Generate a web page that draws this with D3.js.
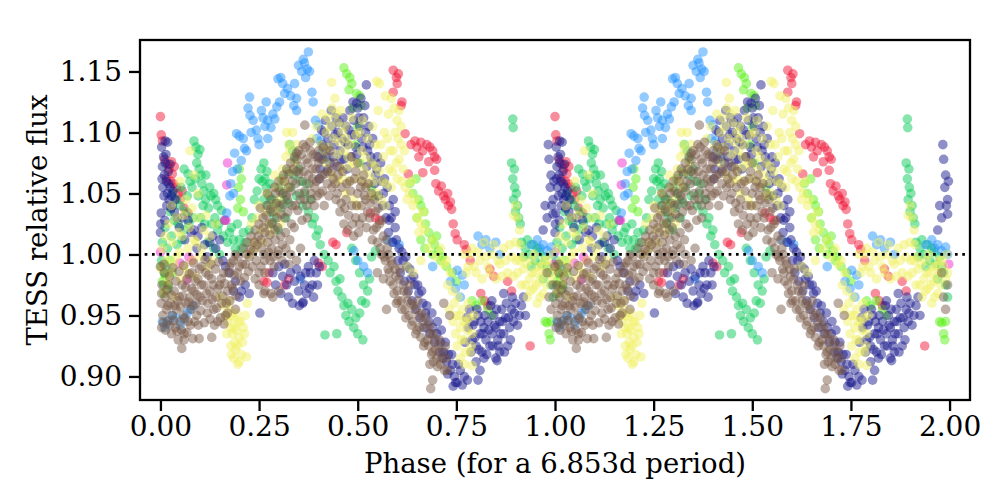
<!DOCTYPE html>
<html>
<head>
<meta charset="utf-8">
<script src="https://cdn.jsdelivr.net/npm/d3@7"></script>
<style>
html,body{margin:0;padding:0;background:#fff;}
svg{display:block;font-family:"DejaVu Serif",serif;}
</style>
</head>
<body>
<svg id="chart" width="1000" height="500"></svg>
<script>
// ---- data: [phase, relative flux] for one cycle (plotted at phase and phase+1) ----
const xTicks = [0, 0.25, 0.5, 0.75, 1.0, 1.25, 1.5, 1.75, 2.0];
const xTickLabels = ["0.00","0.25","0.50","0.75","1.00","1.25","1.50","1.75","2.00"];
const yTicks = [0.90, 0.95, 1.00, 1.05, 1.10, 1.15];
const yTickLabels = ["0.90","0.95","1.00","1.05","1.10","1.15"];
const xLabel = "Phase (for a 6.853d period)";
const yLabel = "TESS relative flux";

const redPts = [[0.000,1.113],[0.002,1.098],[0.005,1.093],[0.010,1.078],[0.018,1.074],[0.022,1.070],[0.028,1.076],[0.030,1.066],[0.035,1.072],[0.026,1.060],[0.040,1.055],[0.045,1.050],[0.050,1.045],[0.015,1.062],[0.060,1.038],[0.070,1.034],[0.033,1.058],[0.055,1.052],
[0.262,0.978],[0.270,0.977],[0.275,0.985],[0.315,0.975],[0.325,0.980],[0.400,0.993],[0.410,0.990],[0.437,1.010],[0.445,1.008],[0.472,1.018],[0.532,1.034],[0.545,1.030],[0.555,1.028],
[0.590,1.151],[0.598,1.145],[0.603,1.148],[0.600,1.140],[0.590,1.133],[0.612,1.125],[0.610,1.122],[0.620,1.099],[0.628,1.066],
[0.635,1.090],[0.645,1.093],[0.650,1.088],[0.660,1.092],[0.665,1.085],[0.675,1.090],[0.683,1.088],[0.690,1.085],[0.695,1.080],[0.700,1.078],[0.680,1.076],[0.655,1.080],[0.665,1.067],[0.695,1.069],
[0.698,1.058],[0.705,1.052],[0.712,1.056],[0.718,1.048],[0.722,1.045],[0.728,1.050],[0.730,1.040],[0.735,1.043],[0.738,1.037],[0.742,1.025],[0.747,1.017],[0.752,1.012],[0.770,1.008],[0.775,1.004],[0.785,0.995],
[0.812,0.968],[0.822,0.962],[0.830,0.958],[0.835,0.988],[0.845,0.982],[0.880,0.978],[0.890,0.970],[0.937,0.925]];

const bluePts = [[0.005,0.945],[0.010,0.940],[0.015,0.943],[0.022,0.946],[0.030,0.950],[0.040,0.948],[0.050,0.942],[0.060,0.947],[0.068,0.952],[0.075,0.955],[0.085,0.958],
[0.970,1.008],[0.980,1.003],[0.990,1.006],[0.995,1.000],
[0.168,1.034],[0.176,1.048],[0.178,1.058],[0.183,1.068],[0.188,1.083],[0.193,1.099],[0.200,1.097],[0.205,1.077],[0.213,1.087],[0.218,1.085],[0.222,1.120],[0.226,1.129],[0.227,1.114],[0.235,1.110],[0.243,1.102],[0.247,1.095],
[0.256,1.118],[0.260,1.112],[0.265,1.105],[0.272,1.110],[0.280,1.104],[0.272,1.095],[0.290,1.111],[0.295,1.121],[0.298,1.144],[0.302,1.125],[0.310,1.140],[0.315,1.132],[0.322,1.136],[0.330,1.130],[0.338,1.122],[0.345,1.128],[0.345,1.118],
[0.350,1.155],[0.358,1.150],[0.362,1.160],[0.365,1.157],[0.372,1.152],[0.375,1.166],[0.378,1.150],[0.384,1.133],[0.387,1.125],[0.393,1.110],[0.400,1.106],[0.396,1.095],[0.405,1.093],[0.410,1.085],[0.420,1.078],
[0.185,1.050],[0.195,1.070],[0.210,1.095],[0.230,1.100],[0.250,1.090],[0.268,1.125],[0.285,1.115],[0.305,1.145],[0.340,1.140],[0.368,1.145],
[0.355,0.980],[0.490,1.003],[0.500,0.995],[0.515,0.990],[0.525,0.985],[0.575,1.012],[0.590,1.010],[0.605,1.008],
[0.690,0.990],[0.735,0.978],[0.748,0.972],[0.760,0.965],[0.770,0.975],[0.752,0.987],[0.765,0.983],
[0.805,1.015],[0.815,1.008],[0.825,1.012],[0.835,1.005],[0.850,1.010],[0.860,1.000],[0.955,1.012],[0.962,1.005],[0.940,1.008]];

const greenPts = [[0.085,1.093],[0.090,1.088],[0.095,1.082],[0.100,1.086],[0.092,1.075],[0.098,1.070],[0.103,1.065],[0.088,1.062],[0.105,1.058],[0.110,1.052],[0.096,1.048],[0.115,1.045],[0.108,1.040],
[0.060,1.070],[0.070,1.066],[0.075,1.060],[0.030,1.050],[0.040,1.045],[0.050,1.040],[0.065,1.035],[0.045,1.025],[0.060,1.020],
[0.115,1.065],[0.125,1.055],[0.135,1.050],[0.140,1.045],[0.145,1.040],[0.155,1.036],
[0.130,1.025],[0.145,1.020],[0.160,1.015],[0.170,1.010],[0.180,1.022],[0.190,1.005],[0.200,1.012],[0.210,1.018],[0.120,1.010],[0.135,1.005],[0.150,1.000],
[0.003,0.995],[0.010,0.985],[0.008,0.975],[0.015,0.990],[0.020,0.972],
[0.005,1.010],[0.012,1.022],[0.018,1.005],[0.025,1.035],[0.028,1.015],[0.035,1.028],[0.042,1.008],[0.052,1.055],[0.055,1.012],[0.068,1.048],[0.072,1.025],[0.080,1.055],[0.083,1.030],[0.102,1.030],[0.112,1.025],[0.122,1.038],[0.128,1.048],[0.138,1.030],[0.148,1.025],[0.162,1.028],[0.175,1.018],[0.185,1.012],[0.195,1.025],[0.205,1.005],[0.215,1.010],[0.225,1.020],
[0.255,1.070],[0.262,1.075],[0.270,1.068],[0.258,1.060],[0.268,1.055],[0.275,1.048],[0.262,1.045],[0.272,1.040],[0.280,1.035],[0.290,1.030],[0.285,1.045],[0.245,1.052],
[0.300,1.055],[0.310,1.050],[0.305,1.038],[0.318,1.030],[0.325,1.042],[0.328,1.090],[0.335,1.085],[0.340,1.078],
[0.232,1.030],[0.238,1.045],[0.250,1.062],[0.265,1.062],[0.278,1.058],[0.282,1.025],[0.292,1.042],[0.298,1.020],[0.308,1.062],[0.315,1.045],[0.322,1.068],[0.330,1.055],[0.338,1.065],[0.345,1.048],[0.350,1.070],[0.360,1.040],[0.370,1.058],[0.380,1.045],[0.390,1.030],[0.400,1.020],[0.405,1.008],
[0.355,1.060],[0.365,1.050],[0.375,1.035],[0.385,1.025],[0.395,1.015],
[0.415,1.000],[0.425,0.995],[0.430,0.985],[0.440,0.990],[0.445,0.978],[0.450,0.970],[0.455,0.980],[0.460,0.965],[0.465,0.958],[0.470,0.950],[0.475,0.960],[0.478,0.945],[0.485,0.955],[0.490,0.940],[0.495,0.948],[0.500,0.935],[0.505,0.952],[0.510,0.962],[0.417,0.934],[0.447,0.935],[0.513,0.930],
[0.485,1.005],[0.495,0.995],[0.505,0.985],[0.515,0.975],[0.520,0.960],[0.525,0.970],[0.530,0.980],[0.535,0.998],[0.545,1.003],
[0.893,1.111],[0.894,1.104],[0.890,1.075],[0.897,1.070],[0.893,1.062],[0.898,1.055],[0.902,1.050],[0.895,1.045],[0.905,1.040],[0.900,1.035],[0.908,1.030],[0.912,1.025],
[0.915,1.010],[0.925,1.005],[0.935,1.000],[0.950,0.995],[0.960,1.002],[0.945,1.008],[0.985,0.985],[0.990,0.975],[0.995,0.965],
[0.920,0.998],[0.930,1.012],[0.940,0.990],[0.955,1.005],[0.965,0.992],[0.975,0.998],[0.970,0.980],[0.980,0.990]];

const limePts = [[0.002,0.990],[0.005,0.978],[0.012,0.983],[0.008,0.968],[0.018,0.975],[0.025,0.995],[0.030,0.985],[0.988,0.930],[0.980,0.944],
[0.200,1.070],[0.205,1.062],[0.198,1.055],[0.203,1.045],[0.210,1.035],[0.196,1.038],
[0.465,1.153],[0.472,1.148],[0.478,1.135],[0.485,1.140],[0.480,1.145],[0.497,1.132],[0.505,1.130],[0.508,1.122],[0.487,1.120],[0.500,1.105],[0.495,1.090],[0.505,1.075],[0.535,1.055],[0.545,1.048],
[0.632,1.058],[0.640,1.050],[0.648,1.062],[0.655,1.045],[0.660,1.040],[0.668,1.035],[0.672,1.025],[0.680,1.018],[0.688,1.012],[0.695,1.008],[0.705,1.003],[0.715,0.998],[0.650,1.030],[0.660,1.012],[0.670,1.005],[0.700,1.015],
[0.690,1.000],[0.710,0.995],[0.725,0.990],[0.740,0.985],[0.750,0.978],
[0.790,0.962],[0.800,0.958],[0.815,0.962],[0.830,0.955],[0.840,0.950],
[0.975,0.945],[0.985,0.935],[0.990,0.945]];

const magentaPts = [[0.170,1.075],[0.168,1.057],[0.166,1.028],[0.163,1.028],[0.000,1.002],[0.049,0.993],[0.066,0.979],[0.072,0.998],[0.080,0.995],[0.998,0.992]];

const navyPts = [[0.003,1.088],[0.008,1.080],[0.005,1.072],[0.012,1.075],[0.010,1.065],[0.015,1.060],[0.020,1.068],[0.006,1.055],[0.018,1.050],[0.025,1.055],[0.022,1.045],[0.030,1.040],[0.028,1.048],[0.035,1.035],[0.002,1.034],[0.000,1.018],[0.012,1.093],[0.018,1.092],
[0.004,1.062],[0.009,1.048],[0.014,1.082],[0.016,1.040],[0.021,1.058],[0.024,1.074],[0.027,1.038],[0.032,1.052],[0.037,1.045],[0.042,1.030],[0.001,1.025],[0.011,1.028],
[0.070,1.028],[0.085,1.020],[0.095,1.015],[0.105,1.022],[0.125,1.010],[0.140,1.005],[0.150,1.012],
[0.048,1.022],[0.055,1.030],[0.062,1.012],[0.078,1.018],[0.092,1.005],[0.112,1.008],[0.118,0.998],[0.132,1.015],[0.158,0.995],[0.165,0.990],
[0.175,0.985],[0.190,0.978],[0.205,0.970],[0.215,0.975],[0.225,0.968],[0.185,0.970],[0.200,0.965],
[0.300,0.990],[0.310,0.982],[0.320,0.975],[0.330,0.985],[0.340,0.978],[0.350,0.970],[0.355,0.982],[0.365,0.975],[0.370,0.968],[0.375,0.990],[0.380,0.985],[0.385,0.975],[0.390,0.995],[0.395,0.985],[0.360,0.960],[0.335,0.960],[0.362,0.961],[0.252,0.952],
[0.285,0.985],[0.292,0.975],[0.305,0.968],[0.315,0.992],[0.325,0.965],[0.345,0.988],[0.352,0.958],[0.368,0.985],[0.378,0.972],[0.388,0.965],[0.398,0.975],[0.403,0.990],
[0.400,1.080],[0.405,1.070],[0.410,1.090],[0.415,1.100],[0.420,1.085],[0.425,1.095],[0.430,1.075],[0.435,1.105],[0.440,1.090],[0.445,1.112],[0.450,1.100],[0.455,1.085],[0.460,1.095],[0.465,1.078],[0.470,1.105],[0.475,1.090],[0.480,1.118],[0.485,1.098],[0.490,1.110],[0.495,1.088],[0.500,1.120],[0.505,1.105],[0.510,1.095],[0.515,1.112],[0.520,1.100],[0.525,1.085],[0.530,1.090],[0.522,1.139],[0.497,1.124],
[0.402,1.062],[0.408,1.102],[0.412,1.078],[0.418,1.110],[0.423,1.068],[0.428,1.088],[0.433,1.118],[0.438,1.080],[0.443,1.098],[0.448,1.072],[0.453,1.108],[0.458,1.078],[0.463,1.112],[0.468,1.092],[0.473,1.070],[0.478,1.102],[0.483,1.080],[0.488,1.125],[0.493,1.098],[0.498,1.082],[0.503,1.112],[0.508,1.128],[0.513,1.088],[0.518,1.122],[0.523,1.072],[0.528,1.105],[0.533,1.080],[0.538,1.095],[0.543,1.058],[0.548,1.070],[0.553,1.048],[0.558,1.075],[0.563,1.040],[0.568,1.062],
[0.535,1.075],[0.545,1.065],[0.550,1.080],[0.560,1.060],[0.565,1.050],[0.575,1.055],[0.580,1.040],[0.590,1.045],[0.595,1.035],[0.580,1.028],[0.595,1.022],
[0.572,1.030],[0.578,1.018],[0.585,1.030],[0.588,1.010],[0.598,1.012],[0.602,0.995],[0.608,0.985],[0.612,1.002],[0.618,0.978],[0.622,0.998],[0.628,0.970],[0.632,0.988],[0.638,0.962],[0.642,0.982],[0.648,0.955],[0.652,0.975],[0.658,0.948],[0.662,0.970],[0.668,0.940],[0.675,0.958],[0.682,0.935],[0.688,0.952],[0.695,0.928],[0.702,0.945],[0.708,0.920],[0.712,0.938],[0.722,0.928],[0.728,0.902],[0.738,0.918],[0.742,0.892],[0.755,0.910],[0.770,0.900],
[0.605,1.005],[0.615,0.995],[0.625,0.990],[0.635,0.980],[0.645,0.975],[0.655,0.968],[0.665,0.960],[0.672,0.952],[0.680,0.945],[0.690,0.940],[0.700,0.935],[0.710,0.928],[0.718,0.920],[0.725,0.912],[0.730,0.918],[0.735,0.905],[0.740,0.910],[0.745,0.900],[0.716,0.915],
[0.748,0.895],[0.760,0.905],[0.765,0.893],[0.778,0.897],[0.752,0.895],[0.805,0.897],
[0.780,0.940],[0.790,0.930],[0.795,0.945],[0.800,0.925],[0.805,0.950],[0.810,0.935],[0.815,0.920],[0.820,0.940],[0.825,0.930],[0.830,0.945],[0.835,0.925],[0.840,0.935],[0.845,0.950],[0.850,0.940],[0.855,0.930],[0.860,0.945],[0.865,0.955],[0.870,0.935],[0.875,0.948],[0.880,0.925],[0.885,0.940],[0.890,0.955],[0.895,0.945],[0.900,0.960],[0.910,0.950],[0.920,0.965],[0.850,0.915],[0.860,0.920],[0.800,0.912],[0.810,0.905],[0.820,0.915],[0.853,0.913],
[0.772,0.928],[0.776,0.948],[0.783,0.955],[0.787,0.920],[0.792,0.942],[0.797,0.932],[0.802,0.955],[0.807,0.922],[0.812,0.945],[0.817,0.935],[0.822,0.950],[0.827,0.918],[0.832,0.938],[0.837,0.958],[0.842,0.925],[0.847,0.942],[0.852,0.955],[0.857,0.925],[0.862,0.935],[0.867,0.945],[0.872,0.920],[0.877,0.960],[0.882,0.948],[0.887,0.930],[0.892,0.965],[0.897,0.952],[0.905,0.942],[0.915,0.958],[0.925,0.950],[0.870,0.968],[0.840,0.962],
[0.985,1.078],[0.990,1.065],[0.988,1.055],[0.995,1.045],[0.992,1.040],[0.980,1.030],[0.995,1.033],[0.970,1.020],[0.975,1.040],[0.983,1.090],[0.997,1.060]];

const brownPts = [[0.000,0.990],[0.004,0.975],[0.002,0.960],[0.006,0.950],[0.003,0.940],[0.010,0.985],[0.012,0.965],[0.015,0.955],[0.018,0.945],[0.020,0.975],[0.025,0.960],[0.028,0.935],[0.030,0.950],[0.035,0.970],[0.038,0.940],[0.040,0.955],[0.045,0.930],[0.048,0.965],[0.050,0.945],[0.055,0.975],[0.058,0.950],[0.060,0.935],[0.065,0.960],[0.068,0.980],[0.070,0.945],[0.075,0.965],[0.078,0.955],[0.080,0.985],[0.085,0.970],[0.090,0.960],[0.092,0.950],[0.095,0.980],[0.100,0.965],[0.105,0.990],[0.110,0.975],[0.115,0.985],[0.120,0.960],[0.125,0.970],[0.130,0.980],[0.135,0.955],[0.140,0.965],[0.145,0.945],[0.150,0.975],[0.155,0.960],[0.160,0.985],[0.165,0.950],[0.170,0.970],
[0.003,0.968],[0.007,0.944],[0.009,0.992],[0.013,0.938],[0.016,0.971],[0.019,0.958],[0.023,0.982],[0.024,0.942],[0.027,0.967],[0.031,0.989],[0.033,0.946],[0.036,0.958],[0.039,0.978],[0.042,0.937],[0.044,0.962],[0.047,0.986],[0.051,0.957],[0.053,0.938],[0.056,0.966],[0.059,0.991],[0.062,0.948],[0.064,0.973],[0.067,0.936],[0.071,0.961],[0.073,0.984],[0.076,0.942],[0.079,0.972],[0.082,0.958],[0.084,0.993],[0.087,0.945],[0.089,0.978],[0.093,0.967],[0.096,0.942],[0.099,0.988],[0.102,0.954],[0.104,0.975],[0.107,0.962],[0.111,0.944],[0.113,0.996],[0.117,0.968],[0.119,0.952],[0.122,0.983],[0.126,0.947],[0.128,0.992],[0.131,0.963],[0.134,0.975],[0.137,0.942],[0.139,0.988],[0.142,0.956],[0.146,0.972],[0.148,0.994],[0.152,0.948],[0.154,0.980],[0.158,0.966],[0.161,0.943],[0.163,0.976],[0.167,0.960],[0.172,0.985],[0.176,0.962],[0.179,0.993],[0.183,0.972],[0.187,0.983],[0.192,0.966],[0.197,0.998],[0.203,0.978],[0.208,0.992],[0.213,0.981],[0.218,1.000],[0.223,0.986],[0.228,1.004],[0.233,0.990],[0.238,1.010],[0.243,0.995],[0.248,1.015],
[0.054,0.923],[0.082,0.931],[0.098,0.931],[0.130,0.932],[0.060,0.930],
[0.175,0.990],[0.180,0.975],[0.185,0.995],[0.190,1.000],[0.195,0.985],[0.200,0.990],[0.210,1.005],[0.215,0.992],[0.220,1.010],[0.225,0.998],[0.230,1.015],[0.235,1.003],[0.240,1.020],[0.245,1.008],[0.250,1.025],[0.255,1.012],[0.170,0.952],[0.190,0.955],[0.240,0.980],[0.250,0.985],
[0.260,1.030],[0.262,1.000],[0.265,1.018],[0.270,1.040],[0.272,1.010],[0.275,1.025],[0.280,1.045],[0.282,1.005],[0.285,1.035],[0.290,1.020],[0.292,1.050],[0.295,1.030],[0.300,1.060],[0.302,1.040],[0.305,1.015],[0.310,1.050],[0.312,1.065],[0.315,1.030],[0.320,1.070],[0.322,1.045],[0.325,1.055],[0.330,1.075],[0.332,1.025],[0.335,1.060],[0.340,1.080],[0.342,1.040],[0.345,1.068],[0.350,1.085],[0.352,1.050],[0.355,1.072],[0.360,1.060],[0.362,1.090],[0.365,1.045],[0.370,1.078],[0.372,1.030],[0.375,1.065],[0.380,1.085],[0.382,1.050],[0.385,1.070],[0.390,1.040],[0.392,1.080],[0.395,1.060],[0.400,1.075],[0.405,1.050],[0.410,1.065],[0.415,1.040],
[0.253,1.038],[0.257,1.005],[0.261,1.022],[0.264,0.995],[0.268,1.032],[0.271,1.050],[0.274,1.002],[0.277,1.016],[0.279,1.037],[0.283,1.026],[0.286,0.998],[0.289,1.055],[0.291,1.012],[0.294,1.042],[0.297,1.022],[0.299,1.003],[0.303,1.052],[0.306,1.033],[0.309,1.008],[0.311,1.041],[0.314,1.060],[0.317,1.018],[0.319,1.048],[0.323,1.035],[0.326,1.066],[0.328,1.012],[0.331,1.052],[0.334,1.040],[0.337,1.070],[0.339,1.022],[0.343,1.058],[0.346,1.078],[0.348,1.036],[0.351,1.066],[0.354,1.045],[0.357,1.082],[0.359,1.028],[0.363,1.068],[0.366,1.052],[0.368,1.088],[0.371,1.040],[0.374,1.075],[0.377,1.058],[0.379,1.092],[0.383,1.045],[0.386,1.062],[0.388,1.082],[0.391,1.055],[0.394,1.070],[0.397,1.048],[0.401,1.085],[0.404,1.062],[0.407,1.078],[0.411,1.052],[0.413,1.088],[0.417,1.066],[0.420,1.080],[0.423,1.058],[0.427,1.048],[0.432,1.068],[0.438,1.062],[0.443,1.058],[0.448,1.050],[0.453,1.072],
[0.255,0.990],[0.265,0.985],[0.278,0.995],[0.288,0.990],[0.298,1.000],[0.308,0.995],[0.318,1.005],[0.325,0.992],[0.250,0.975],[0.265,0.970],[0.285,0.965],[0.280,0.968],[0.300,0.970],[0.262,0.968],[0.330,1.000],[0.345,0.995],[0.355,1.005],
[0.366,1.106],[0.345,1.083],
[0.425,1.070],[0.430,1.085],[0.435,1.055],[0.440,1.075],[0.445,1.045],[0.450,1.065],[0.455,1.035],[0.460,1.055],[0.465,1.025],[0.470,1.045],[0.475,1.020],[0.480,1.060],[0.485,1.040],[0.490,1.015],[0.495,1.030],[0.500,1.050],[0.505,1.025],[0.510,1.040],[0.515,1.065],[0.520,1.055],[0.525,1.035],
[0.458,1.042],[0.462,1.068],[0.467,1.038],[0.472,1.058],[0.477,1.032],[0.482,1.052],[0.487,1.025],[0.492,1.062],[0.497,1.040],[0.502,1.018],[0.507,1.055],[0.512,1.030],[0.517,1.048],[0.522,1.022],[0.527,1.058],[0.532,1.042],[0.537,1.012],[0.542,1.045],[0.547,1.022],[0.552,1.038],[0.557,1.005],[0.562,1.028],[0.567,0.998],[0.572,1.012],[0.577,0.988],
[0.485,1.080],[0.495,1.068],[0.500,1.075],[0.510,1.060],[0.520,1.045],[0.530,1.030],[0.535,1.050],[0.540,1.020],[0.545,1.035],[0.550,1.010],[0.555,1.025],[0.560,1.000],[0.565,1.015],
[0.570,0.995],[0.575,1.005],[0.580,0.985],[0.585,0.995],[0.590,0.975],[0.595,0.988],[0.600,0.970],[0.605,0.980],[0.610,0.962],[0.615,0.975],[0.620,0.955],[0.625,0.968],[0.630,0.950],[0.635,0.960],[0.640,0.945],[0.645,0.955],[0.650,0.938],[0.655,0.950],[0.660,0.932],[0.665,0.945],[0.670,0.928],[0.675,0.940],[0.680,0.925],[0.685,0.935],[0.690,0.920],[0.695,0.930],[0.700,0.915],[0.705,0.925],[0.710,0.910],[0.715,0.920],[0.720,0.905],[0.725,0.915],
[0.578,1.000],[0.582,0.978],[0.587,0.992],[0.592,0.968],[0.597,0.982],[0.602,0.962],[0.607,0.988],[0.612,0.955],[0.617,0.970],[0.622,0.948],[0.627,0.962],[0.632,0.975],[0.637,0.942],[0.642,0.958],[0.647,0.935],[0.652,0.962],[0.657,0.940],[0.662,0.952],[0.667,0.925],[0.672,0.948],[0.677,0.930],[0.682,0.942],[0.687,0.918],[0.692,0.935],[0.697,0.922],[0.702,0.908],[0.707,0.930],[0.712,0.915],[0.722,0.925],[0.727,0.905],
[0.550,0.985],[0.565,0.980],[0.598,0.960],[0.573,0.955],[0.683,0.910],[0.690,0.897],[0.685,0.890],[0.692,0.912],[0.718,0.960],[0.733,0.950],
[0.985,0.965],[0.990,0.955],[0.995,0.975],[0.980,0.985]];

const yellowPts = [[0.005,1.005],[0.015,0.995],[0.025,0.985],[0.030,1.010],[0.040,0.998],[0.050,0.980],[0.055,1.015],[0.060,0.990],[0.070,1.005],[0.080,0.995],[0.090,1.010],[0.100,0.998],[0.110,1.020],[0.120,0.990],[0.020,1.025],[0.040,1.030],[0.065,1.045],[0.080,1.038],[0.095,1.050],[0.010,0.970],[0.035,0.965],[0.075,1.085],
[0.003,0.988],[0.012,1.015],[0.018,0.978],[0.028,1.040],[0.033,0.992],[0.045,1.018],[0.048,1.002],[0.058,1.032],[0.068,0.985],[0.073,1.022],[0.085,1.012],[0.088,0.982],[0.093,1.030],[0.105,1.005],[0.115,1.032],[0.125,1.015],[0.130,0.995],[0.140,1.025],[0.050,1.060],[0.085,1.065],
[0.150,0.965],[0.160,0.958],[0.165,0.950],[0.170,0.945],[0.175,0.955],[0.178,0.940],[0.182,0.935],[0.185,0.948],[0.188,0.928],[0.192,0.938],[0.195,0.925],[0.198,0.945],[0.200,0.932],[0.205,0.918],[0.210,0.940],[0.215,0.950],[0.220,0.960],[0.185,0.915],[0.200,0.912],[0.218,0.916],[0.178,0.925],[0.190,0.922],
[0.168,0.935],[0.173,0.962],[0.180,0.950],[0.187,0.940],[0.193,0.952],[0.203,0.945],[0.208,0.928],[0.213,0.935],[0.180,0.918],[0.196,0.910],
[0.225,1.000],[0.235,1.010],[0.245,1.030],[0.255,1.020],[0.265,1.035],[0.275,1.025],[0.285,1.040],[0.295,1.055],[0.300,1.045],[0.310,1.070],[0.315,1.060],[0.320,1.100],[0.325,1.090],[0.328,1.085],[0.340,1.075],[0.295,1.035],
[0.230,1.025],[0.240,1.005],[0.250,1.040],[0.260,1.010],[0.270,1.050],[0.280,1.018],[0.290,1.065],[0.305,1.062],[0.318,1.080],[0.330,1.068],[0.335,1.100],[0.345,1.090],[0.305,1.025],[0.322,1.055],
[0.434,1.141],[0.435,1.120],[0.445,1.115],[0.420,1.100],[0.430,1.105],[0.440,1.095],[0.450,1.108],[0.455,1.092],[0.460,1.100],[0.465,1.085],[0.470,1.095],[0.475,1.080],[0.480,1.090],[0.490,1.075],[0.420,1.075],[0.435,1.065],[0.450,1.060],[0.460,1.070],[0.470,1.050],[0.480,1.060],[0.490,1.045],[0.500,1.040],
[0.385,1.095],[0.395,1.105],[0.405,1.090],[0.410,1.115],[0.415,1.085],[0.425,1.112],[0.428,1.088],[0.442,1.128],[0.448,1.082],[0.457,1.118],[0.462,1.062],[0.468,1.105],[0.478,1.072],[0.485,1.112],[0.495,1.098],[0.502,1.062],[0.512,1.110],[0.518,1.058],[0.525,1.095],[0.532,1.048],[0.538,1.105],[0.545,1.072],[0.552,1.118],[0.558,1.090],[0.562,1.060],[0.568,1.100],[0.572,1.058],[0.578,1.115],[0.582,1.085],[0.588,1.068],[0.592,1.120],[0.598,1.075],[0.602,1.095],[0.612,1.060],[0.618,1.085],[0.570,1.130],[0.585,1.128],
[0.505,1.100],[0.510,1.085],[0.515,1.070],[0.520,1.080],[0.530,1.065],[0.535,1.075],[0.540,1.060],[0.545,1.090],[0.550,1.050],[0.555,1.068],[0.560,1.045],[0.565,1.080],[0.570,1.040],[0.575,1.095],[0.580,1.070],[0.585,1.055],[0.590,1.085],[0.595,1.100],[0.600,1.062],[0.605,1.078],[0.610,1.090],[0.615,1.070],[0.620,1.055],[0.548,1.142],[0.555,1.140],[0.605,1.118],[0.600,1.110],[0.610,1.105],
[0.630,1.050],[0.640,1.040],[0.650,1.030],[0.660,1.025],[0.645,1.045],[0.665,1.035],[0.625,0.990],[0.640,0.985],[0.660,0.995],
[0.625,1.045],[0.635,1.060],[0.655,1.018],[0.670,1.020],[0.680,1.005],[0.690,1.012],[0.700,0.998],[0.710,1.005],[0.718,0.992],
[0.725,0.995],[0.735,0.985],[0.740,0.970],[0.745,0.960],[0.750,0.950],[0.755,0.965],[0.760,0.940],[0.765,0.955],[0.770,0.930],[0.775,0.945],[0.780,0.960],[0.785,0.920],[0.790,0.935],[0.770,0.910],[0.760,0.915],[0.790,0.909],
[0.728,0.975],[0.732,0.955],[0.742,0.945],[0.748,0.935],[0.752,0.925],[0.758,0.950],[0.763,0.930],[0.768,0.945],[0.772,0.920],[0.778,0.938],[0.782,0.948],[0.788,0.925],[0.795,0.950],
[0.770,1.000],[0.780,0.990],[0.790,1.005],[0.800,0.985],[0.810,0.995],[0.820,1.010],[0.830,0.990],[0.840,1.000],[0.850,0.980],[0.860,0.992],[0.870,1.005],[0.880,0.985],[0.890,0.998],[0.900,1.010],[0.905,0.985],[0.910,0.995],[0.915,0.975],[0.920,0.988],[0.930,0.965],[0.935,0.980],[0.940,0.995],[0.945,0.972],[0.950,0.985],[0.955,0.960],[0.960,0.978],[0.965,0.990],[0.970,0.968],[0.975,0.985],[0.980,0.995],[0.990,0.980],[0.905,1.030],[0.910,1.020],[0.900,1.040],[0.895,1.032],
[0.775,0.985],[0.785,1.000],[0.795,0.990],[0.805,1.002],[0.815,0.980],[0.825,0.998],[0.835,0.985],[0.845,1.008],[0.855,0.995],[0.865,0.982],[0.875,0.995],[0.885,1.008],[0.895,0.982],[0.902,0.995],[0.912,1.008],[0.918,0.998],[0.925,0.975],[0.928,0.992],[0.938,0.970],[0.942,0.985],[0.948,1.000],[0.952,0.975],[0.958,0.990],[0.962,0.965],[0.968,0.982],[0.972,0.995],[0.978,0.975],[0.985,0.990],[0.992,1.000],[0.995,0.985]];

// ---- drawing ----
const series = [
  {pts: redPts, color: "#ee1133"},
  {pts: greenPts, color: "#00c853"},
  {pts: limePts, color: "#55ee11"},
  {pts: magentaPts, color: "#ee22cc"},
  {pts: bluePts, color: "#1e90ff"},
  {pts: navyPts, color: "#15158a"},
  {pts: yellowPts, color: "#f0f060"},
  {pts: brownPts, color: "#785846"}
];

const svg = d3.select("#chart");
const mL = 140, mR = 970, mT = 40, mB = 400;
const x = d3.scaleLinear().domain([-0.0518, 2.0518]).range([mL, mR]);
const y = d3.scaleLinear().domain([0.8807, 1.1758]).range([mB, mT]);

const plot = svg.append("g");
series.forEach(s => {
  const both = s.pts.map(d => [d[0], d[1]]).concat(s.pts.map(d => [d[0] + 1, d[1]]));
  plot.selectAll(null).data(both).enter().append("circle")
    .attr("cx", d => x(d[0]))
    .attr("cy", d => y(d[1]))
    .attr("r", 4.8)
    .attr("fill", s.color)
    .attr("fill-opacity", 0.48);
});

// dotted reference line at flux = 1
svg.append("line")
  .attr("x1", x(-0.04)).attr("x2", x(2.04))
  .attr("y1", y(1.0)).attr("y2", y(1.0))
  .attr("stroke", "#000").attr("stroke-width", 2.7)
  .attr("stroke-dasharray", "2.7 4.6");

// axes
const xAxis = d3.axisBottom(x).tickValues(xTicks).tickFormat((d, i) => xTickLabels[i]).tickSize(11).tickPadding(5);
const yAxis = d3.axisLeft(y).tickValues(yTicks).tickFormat((d, i) => yTickLabels[i]).tickSize(11).tickPadding(7);

const gx = svg.append("g").attr("transform", `translate(0,${mB})`).call(xAxis);
const gy = svg.append("g").attr("transform", `translate(${mL},0)`).call(yAxis);
[gx, gy].forEach(g => {
  g.select(".domain").remove();
  g.selectAll(".tick line").attr("stroke", "#000").attr("stroke-width", 2.3);
  g.selectAll(".tick text").attr("fill", "#000").style("font-family", "'DejaVu Serif', serif").style("font-size", "28px");
});

// frame
svg.append("rect").attr("x", mL).attr("y", mT).attr("width", mR - mL).attr("height", mB - mT)
  .attr("fill", "none").attr("stroke", "#000").attr("stroke-width", 2.3);

// labels
svg.append("text").attr("x", (mL + mR) / 2).attr("y", 473).attr("text-anchor", "middle")
  .style("font-size", "27.5px").attr("fill", "#000").text(xLabel);
svg.append("text").attr("transform", `translate(47,${(mT + mB) / 2}) rotate(-90)`).attr("text-anchor", "middle")
  .style("font-size", "27.5px").attr("fill", "#000").text(yLabel);
</script>
</body>
</html>
